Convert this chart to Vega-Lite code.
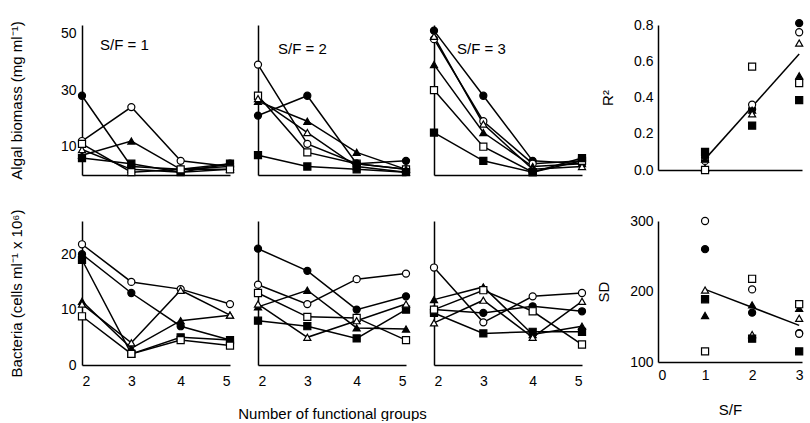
{
"$schema": "https://vega.github.io/schema/vega-lite/v6.json",
"padding": {"left": 9, "top": 17, "right": 0, "bottom": 0},
"config": {
  "view": {"stroke": null},
  "font": "Liberation Sans",
  "axis": {"domainColor": "black", "domainWidth": 1.5, "ticks": false, "tickSize": 0, "grid": false, "labelOverlap": false, "labelFont": "Liberation Sans", "labelFontSize": 14, "labelColor": "black", "titleFont": "Liberation Sans", "titleFontSize": 15, "titleFontWeight": "normal", "titleColor": "black", "labelPadding": 6},
  "axisX": {"labelPadding": 9},
  "title": {"font": "Liberation Sans", "fontSize": 15, "fontWeight": "normal", "color": "black"}
},
"datasets": {
  "d": [
    {"p":"A1","s":"fc","x":2,"y":28},{"p":"A1","s":"fc","x":3,"y":3},{"p":"A1","s":"fc","x":4,"y":2},{"p":"A1","s":"fc","x":5,"y":4},
    {"p":"A1","s":"oc","x":2,"y":12},{"p":"A1","s":"oc","x":3,"y":24},{"p":"A1","s":"oc","x":4,"y":5},{"p":"A1","s":"oc","x":5,"y":3},
    {"p":"A1","s":"ft","x":2,"y":7},{"p":"A1","s":"ft","x":3,"y":12},{"p":"A1","s":"ft","x":4,"y":2},{"p":"A1","s":"ft","x":5,"y":3},
    {"p":"A1","s":"ot","x":2,"y":9},{"p":"A1","s":"ot","x":3,"y":2},{"p":"A1","s":"ot","x":4,"y":1},{"p":"A1","s":"ot","x":5,"y":2},
    {"p":"A1","s":"fs","x":2,"y":6},{"p":"A1","s":"fs","x":3,"y":4},{"p":"A1","s":"fs","x":4,"y":1},{"p":"A1","s":"fs","x":5,"y":4},
    {"p":"A1","s":"os","x":2,"y":11},{"p":"A1","s":"os","x":3,"y":1},{"p":"A1","s":"os","x":4,"y":2},{"p":"A1","s":"os","x":5,"y":2},

    {"p":"A2","s":"oc","x":2,"y":39},{"p":"A2","s":"oc","x":3,"y":11},{"p":"A2","s":"oc","x":4,"y":4},{"p":"A2","s":"oc","x":5,"y":2},
    {"p":"A2","s":"os","x":2,"y":28},{"p":"A2","s":"os","x":3,"y":8},{"p":"A2","s":"os","x":4,"y":4},{"p":"A2","s":"os","x":5,"y":2},
    {"p":"A2","s":"ft","x":2,"y":26},{"p":"A2","s":"ft","x":3,"y":19},{"p":"A2","s":"ft","x":4,"y":8},{"p":"A2","s":"ft","x":5,"y":2},
    {"p":"A2","s":"ot","x":2,"y":27},{"p":"A2","s":"ot","x":3,"y":15},{"p":"A2","s":"ot","x":4,"y":3},{"p":"A2","s":"ot","x":5,"y":1},
    {"p":"A2","s":"fc","x":2,"y":21},{"p":"A2","s":"fc","x":3,"y":28},{"p":"A2","s":"fc","x":4,"y":4},{"p":"A2","s":"fc","x":5,"y":5},
    {"p":"A2","s":"fs","x":2,"y":7},{"p":"A2","s":"fs","x":3,"y":3},{"p":"A2","s":"fs","x":4,"y":2},{"p":"A2","s":"fs","x":5,"y":1},

    {"p":"A3","s":"fc","x":2,"y":51},{"p":"A3","s":"fc","x":3,"y":28},{"p":"A3","s":"fc","x":4,"y":5},{"p":"A3","s":"fc","x":5,"y":4},
    {"p":"A3","s":"oc","x":2,"y":48},{"p":"A3","s":"oc","x":3,"y":19},{"p":"A3","s":"oc","x":4,"y":4},{"p":"A3","s":"oc","x":5,"y":5},
    {"p":"A3","s":"ft","x":2,"y":39},{"p":"A3","s":"ft","x":3,"y":15},{"p":"A3","s":"ft","x":4,"y":3},{"p":"A3","s":"ft","x":5,"y":4},
    {"p":"A3","s":"ot","x":2,"y":49},{"p":"A3","s":"ot","x":3,"y":18},{"p":"A3","s":"ot","x":4,"y":2},{"p":"A3","s":"ot","x":5,"y":3},
    {"p":"A3","s":"os","x":2,"y":30},{"p":"A3","s":"os","x":3,"y":10},{"p":"A3","s":"os","x":4,"y":1},{"p":"A3","s":"os","x":5,"y":5},
    {"p":"A3","s":"fs","x":2,"y":15},{"p":"A3","s":"fs","x":3,"y":5},{"p":"A3","s":"fs","x":4,"y":1},{"p":"A3","s":"fs","x":5,"y":6},

    {"p":"B1","s":"oc","x":2,"y":21.8},{"p":"B1","s":"oc","x":3,"y":15},{"p":"B1","s":"oc","x":4,"y":13.7},{"p":"B1","s":"oc","x":5,"y":11},
    {"p":"B1","s":"fc","x":2,"y":20},{"p":"B1","s":"fc","x":3,"y":13},{"p":"B1","s":"fc","x":4,"y":7},{"p":"B1","s":"fc","x":5,"y":4.5},
    {"p":"B1","s":"fs","x":2,"y":19},{"p":"B1","s":"fs","x":3,"y":2},{"p":"B1","s":"fs","x":4,"y":5},{"p":"B1","s":"fs","x":5,"y":4.5},
    {"p":"B1","s":"ft","x":2,"y":11.5},{"p":"B1","s":"ft","x":3,"y":3},{"p":"B1","s":"ft","x":4,"y":8},{"p":"B1","s":"ft","x":5,"y":9},
    {"p":"B1","s":"ot","x":2,"y":11},{"p":"B1","s":"ot","x":3,"y":4},{"p":"B1","s":"ot","x":4,"y":13.5},{"p":"B1","s":"ot","x":5,"y":9},
    {"p":"B1","s":"os","x":2,"y":8.8},{"p":"B1","s":"os","x":3,"y":2},{"p":"B1","s":"os","x":4,"y":4.5},{"p":"B1","s":"os","x":5,"y":3.5},

    {"p":"B2","s":"fc","x":2,"y":21},{"p":"B2","s":"fc","x":3,"y":17},{"p":"B2","s":"fc","x":4,"y":10},{"p":"B2","s":"fc","x":5,"y":12.4},
    {"p":"B2","s":"oc","x":2,"y":14.5},{"p":"B2","s":"oc","x":3,"y":11},{"p":"B2","s":"oc","x":4,"y":15.5},{"p":"B2","s":"oc","x":5,"y":16.5},
    {"p":"B2","s":"os","x":2,"y":13},{"p":"B2","s":"os","x":3,"y":8.7},{"p":"B2","s":"os","x":4,"y":8.5},{"p":"B2","s":"os","x":5,"y":4.5},
    {"p":"B2","s":"ft","x":2,"y":10.5},{"p":"B2","s":"ft","x":3,"y":13.5},{"p":"B2","s":"ft","x":4,"y":6.7},{"p":"B2","s":"ft","x":5,"y":6.5},
    {"p":"B2","s":"fs","x":2,"y":8},{"p":"B2","s":"fs","x":3,"y":7},{"p":"B2","s":"fs","x":4,"y":4.8},{"p":"B2","s":"fs","x":5,"y":10},
    {"p":"B2","s":"ot","x":2,"y":11},{"p":"B2","s":"ot","x":3,"y":5},{"p":"B2","s":"ot","x":4,"y":8},{"p":"B2","s":"ot","x":5,"y":11},

    {"p":"B3","s":"oc","x":2,"y":17.6},{"p":"B3","s":"oc","x":3,"y":7.7},{"p":"B3","s":"oc","x":4,"y":12.4},{"p":"B3","s":"oc","x":5,"y":13},
    {"p":"B3","s":"ft","x":2,"y":11.8},{"p":"B3","s":"ft","x":3,"y":14.1},{"p":"B3","s":"ft","x":4,"y":5.5},{"p":"B3","s":"ft","x":5,"y":7},
    {"p":"B3","s":"fc","x":2,"y":10},{"p":"B3","s":"fc","x":3,"y":9.4},{"p":"B3","s":"fc","x":4,"y":10.6},{"p":"B3","s":"fc","x":5,"y":9.7},
    {"p":"B3","s":"fs","x":2,"y":9.4},{"p":"B3","s":"fs","x":3,"y":5.7},{"p":"B3","s":"fs","x":4,"y":6},{"p":"B3","s":"fs","x":5,"y":6},
    {"p":"B3","s":"ot","x":2,"y":7.6},{"p":"B3","s":"ot","x":3,"y":11.7},{"p":"B3","s":"ot","x":4,"y":5},{"p":"B3","s":"ot","x":5,"y":11.5},
    {"p":"B3","s":"os","x":2,"y":10},{"p":"B3","s":"os","x":3,"y":13.5},{"p":"B3","s":"os","x":4,"y":9.7},{"p":"B3","s":"os","x":5,"y":3.7},

    {"p":"R","s":"fc","x":1,"y":0.07},{"p":"R","s":"oc","x":1,"y":0.05},{"p":"R","s":"ft","x":1,"y":0.06},{"p":"R","s":"ot","x":1,"y":0.01},{"p":"R","s":"fs","x":1,"y":0.10},{"p":"R","s":"os","x":1,"y":0.0},
    {"p":"R","s":"fc","x":2,"y":0.335},{"p":"R","s":"oc","x":2,"y":0.36},{"p":"R","s":"ft","x":2,"y":0.33},{"p":"R","s":"ot","x":2,"y":0.31},{"p":"R","s":"fs","x":2,"y":0.245},{"p":"R","s":"os","x":2,"y":0.57},
    {"p":"R","s":"fc","x":3,"y":0.81},{"p":"R","s":"oc","x":3,"y":0.76},{"p":"R","s":"ft","x":3,"y":0.52},{"p":"R","s":"ot","x":3,"y":0.70},{"p":"R","s":"fs","x":3,"y":0.386},{"p":"R","s":"os","x":3,"y":0.48},

    {"p":"S","s":"fc","x":1,"y":260},{"p":"S","s":"oc","x":1,"y":300},{"p":"S","s":"ft","x":1,"y":166},{"p":"S","s":"ot","x":1,"y":202},{"p":"S","s":"fs","x":1,"y":189},{"p":"S","s":"os","x":1,"y":115},
    {"p":"S","s":"fc","x":2,"y":170},{"p":"S","s":"oc","x":2,"y":203},{"p":"S","s":"ft","x":2,"y":181},{"p":"S","s":"ot","x":2,"y":139},{"p":"S","s":"fs","x":2,"y":133},{"p":"S","s":"os","x":2,"y":218},
    {"p":"S","s":"fc","x":3,"y":141},{"p":"S","s":"oc","x":3,"y":140},{"p":"S","s":"ft","x":3,"y":176},{"p":"S","s":"ot","x":3,"y":162},{"p":"S","s":"fs","x":3,"y":115},{"p":"S","s":"os","x":3,"y":182}
  ],
  "fit": [
    {"p":"R","x":1,"y":0.06},{"p":"R","x":3,"y":0.64},
    {"p":"S","x":1,"y":203},{"p":"S","x":3,"y":152}
  ]
},
"columns": 5,
"spacing": {"row": 29, "column": 1},
"align": "each",
"bounds": "full",
"resolve": {"scale": {"x": "independent", "y": "independent"}},
"concat": [
  {
    "width": 148, "height": 150,
    "title": {"text": "S/F = 1", "anchor": "start", "frame": "group", "offset": -11, "dx": 18, "dy": 21, "baseline": "top"},
    "data": {"name": "d"},
    "transform": [{"filter": "datum.p === 'A1'"}],
    "encoding": {
      "x": {"field": "x", "type": "quantitative", "scale": {"domain": [2, 5], "nice": false}, "axis": {"labels": false, "title": null}},
      "y": {"field": "y", "type": "quantitative", "scale": {"domain": [0, 53], "nice": false}, "axis": {"values": [10, 30, 50], "title": "Algal biomass (mg ml⁻¹)", "titlePadding": 36}}
    },
    "layer": [
      {"mark": {"type": "line", "color": "black", "strokeWidth": 1.5}, "encoding": {"detail": {"field": "s"}}},
      {"mark": {"type": "point", "filled": true, "stroke": "black", "strokeWidth": 1.2, "size": 50, "opacity": 1},
       "encoding": {
         "shape": {"field": "s", "type": "nominal", "scale": {"domain": ["fc","oc","ft","ot","fs","os"], "range": ["circle","circle","triangle-up","triangle-up","square","square"]}, "legend": null},
         "fill": {"field": "s", "type": "nominal", "scale": {"domain": ["fc","oc","ft","ot","fs","os"], "range": ["black","white","black","white","black","white"]}, "legend": null}
       }}
    ]
  },
  {
    "width": 148, "height": 150,
    "title": {"text": "S/F = 2", "anchor": "start", "frame": "group", "offset": -11, "dx": 20, "dy": 21, "baseline": "top"},
    "data": {"name": "d"},
    "transform": [{"filter": "datum.p === 'A2'"}],
    "encoding": {
      "x": {"field": "x", "type": "quantitative", "scale": {"domain": [2, 5], "nice": false}, "axis": {"labels": false, "title": null}},
      "y": {"field": "y", "type": "quantitative", "scale": {"domain": [0, 53], "nice": false}, "axis": {"labels": false, "title": null}}
    },
    "layer": [
      {"mark": {"type": "line", "color": "black", "strokeWidth": 1.5}, "encoding": {"detail": {"field": "s"}}},
      {"mark": {"type": "point", "filled": true, "stroke": "black", "strokeWidth": 1.2, "size": 50, "opacity": 1},
       "encoding": {
         "shape": {"field": "s", "type": "nominal", "scale": {"domain": ["fc","oc","ft","ot","fs","os"], "range": ["circle","circle","triangle-up","triangle-up","square","square"]}, "legend": null},
         "fill": {"field": "s", "type": "nominal", "scale": {"domain": ["fc","oc","ft","ot","fs","os"], "range": ["black","white","black","white","black","white"]}, "legend": null}
       }}
    ]
  },
  {
    "width": 148, "height": 150,
    "title": {"text": "S/F = 3", "anchor": "start", "frame": "group", "offset": -11, "dx": 23, "dy": 21, "baseline": "top"},
    "data": {"name": "d"},
    "transform": [{"filter": "datum.p === 'A3'"}],
    "encoding": {
      "x": {"field": "x", "type": "quantitative", "scale": {"domain": [2, 5], "nice": false}, "axis": {"labels": false, "title": null}},
      "y": {"field": "y", "type": "quantitative", "scale": {"domain": [0, 53], "nice": false}, "axis": {"labels": false, "title": null}}
    },
    "layer": [
      {"mark": {"type": "line", "color": "black", "strokeWidth": 1.5}, "encoding": {"detail": {"field": "s"}}},
      {"mark": {"type": "point", "filled": true, "stroke": "black", "strokeWidth": 1.2, "size": 50, "opacity": 1},
       "encoding": {
         "shape": {"field": "s", "type": "nominal", "scale": {"domain": ["fc","oc","ft","ot","fs","os"], "range": ["circle","circle","triangle-up","triangle-up","square","square"]}, "legend": null},
         "fill": {"field": "s", "type": "nominal", "scale": {"domain": ["fc","oc","ft","ot","fs","os"], "range": ["black","white","black","white","black","white"]}, "legend": null}
       }}
    ]
  },
  {"width": 6, "height": 10, "data": {"values": [{}]}, "mark": {"type": "point", "opacity": 0}, "encoding": {}},
  {
    "width": 144, "height": 145,
    "encoding": {
      "x": {"field": "x", "type": "quantitative", "scale": {"domain": [0, 3.06], "nice": false}, "axis": {"labels": false, "title": null}},
      "y": {"field": "y", "type": "quantitative", "scale": {"domain": [0, 0.8], "nice": false}, "axis": {"values": [0, 0.2, 0.4, 0.6, 0.8], "format": ".1f", "labelOverlap": false, "title": "R²", "titlePadding": 18, "labelPadding": 5}}
    },
    "layer": [
      {"data": {"name": "fit"}, "transform": [{"filter": "datum.p === 'R'"}],
       "mark": {"type": "line", "color": "black", "strokeWidth": 1.5}},
      {"data": {"name": "d"}, "transform": [{"filter": "datum.p === 'R'"}],
       "mark": {"type": "point", "filled": true, "stroke": "black", "strokeWidth": 1.2, "size": 50, "opacity": 1},
       "encoding": {
         "shape": {"field": "s", "type": "nominal", "scale": {"domain": ["fc","oc","ft","ot","fs","os"], "range": ["circle","circle","triangle-up","triangle-up","square","square"]}, "legend": null},
         "fill": {"field": "s", "type": "nominal", "scale": {"domain": ["fc","oc","ft","ot","fs","os"], "range": ["black","white","black","white","black","white"]}, "legend": null}
       }}
    ]
  },
  {
    "width": 148, "height": 144,
    "data": {"name": "d"},
    "transform": [{"filter": "datum.p === 'B1'"}],
    "encoding": {
      "x": {"field": "x", "type": "quantitative", "scale": {"domain": [2, 5], "nice": false}, "axis": {"values": [2, 3, 4, 5], "format": "d", "title": null}},
      "y": {"field": "y", "type": "quantitative", "scale": {"domain": [0, 26], "nice": false}, "axis": {"values": [0, 10, 20], "title": "Bacteria (cells ml⁻¹ x 10⁶)", "titlePadding": 36}}
    },
    "layer": [
      {"mark": {"type": "line", "color": "black", "strokeWidth": 1.5}, "encoding": {"detail": {"field": "s"}}},
      {"mark": {"type": "point", "filled": true, "stroke": "black", "strokeWidth": 1.2, "size": 50, "opacity": 1},
       "encoding": {
         "shape": {"field": "s", "type": "nominal", "scale": {"domain": ["fc","oc","ft","ot","fs","os"], "range": ["circle","circle","triangle-up","triangle-up","square","square"]}, "legend": null},
         "fill": {"field": "s", "type": "nominal", "scale": {"domain": ["fc","oc","ft","ot","fs","os"], "range": ["black","white","black","white","black","white"]}, "legend": null}
       }}
    ]
  },
  {
    "width": 148, "height": 144,
    "data": {"name": "d"},
    "transform": [{"filter": "datum.p === 'B2'"}],
    "encoding": {
      "x": {"field": "x", "type": "quantitative", "scale": {"domain": [2, 5], "nice": false}, "axis": {"values": [2, 3, 4, 5], "format": "d", "title": "Number of functional groups", "titlePadding": 18}},
      "y": {"field": "y", "type": "quantitative", "scale": {"domain": [0, 26], "nice": false}, "axis": {"labels": false, "title": null}}
    },
    "layer": [
      {"mark": {"type": "line", "color": "black", "strokeWidth": 1.5}, "encoding": {"detail": {"field": "s"}}},
      {"mark": {"type": "point", "filled": true, "stroke": "black", "strokeWidth": 1.2, "size": 50, "opacity": 1},
       "encoding": {
         "shape": {"field": "s", "type": "nominal", "scale": {"domain": ["fc","oc","ft","ot","fs","os"], "range": ["circle","circle","triangle-up","triangle-up","square","square"]}, "legend": null},
         "fill": {"field": "s", "type": "nominal", "scale": {"domain": ["fc","oc","ft","ot","fs","os"], "range": ["black","white","black","white","black","white"]}, "legend": null}
       }}
    ]
  },
  {
    "width": 148, "height": 144,
    "data": {"name": "d"},
    "transform": [{"filter": "datum.p === 'B3'"}],
    "encoding": {
      "x": {"field": "x", "type": "quantitative", "scale": {"domain": [2, 5], "nice": false}, "axis": {"values": [2, 3, 4, 5], "format": "d", "title": null}},
      "y": {"field": "y", "type": "quantitative", "scale": {"domain": [0, 26], "nice": false}, "axis": {"labels": false, "title": null}}
    },
    "layer": [
      {"mark": {"type": "line", "color": "black", "strokeWidth": 1.5}, "encoding": {"detail": {"field": "s"}}},
      {"mark": {"type": "point", "filled": true, "stroke": "black", "strokeWidth": 1.2, "size": 50, "opacity": 1},
       "encoding": {
         "shape": {"field": "s", "type": "nominal", "scale": {"domain": ["fc","oc","ft","ot","fs","os"], "range": ["circle","circle","triangle-up","triangle-up","square","square"]}, "legend": null},
         "fill": {"field": "s", "type": "nominal", "scale": {"domain": ["fc","oc","ft","ot","fs","os"], "range": ["black","white","black","white","black","white"]}, "legend": null}
       }}
    ]
  },
  {"width": 6, "height": 10, "data": {"values": [{}]}, "mark": {"type": "point", "opacity": 0}, "encoding": {}},
  {
    "width": 144, "height": 141,
    "encoding": {
      "x": {"field": "x", "type": "quantitative", "scale": {"domain": [0, 3.06], "nice": false}, "axis": {"values": [0, 1, 2, 3], "format": "d", "title": "S/F", "titlePadding": 20, "labelPadding": 6}},
      "y": {"field": "y", "type": "quantitative", "scale": {"domain": [100, 300], "nice": false}, "axis": {"values": [100, 200, 300], "title": "SD", "titlePadding": 18, "labelPadding": 5}}
    },
    "layer": [
      {"data": {"name": "fit"}, "transform": [{"filter": "datum.p === 'S'"}],
       "mark": {"type": "line", "color": "black", "strokeWidth": 1.5}},
      {"data": {"name": "d"}, "transform": [{"filter": "datum.p === 'S'"}],
       "mark": {"type": "point", "filled": true, "stroke": "black", "strokeWidth": 1.2, "size": 50, "opacity": 1},
       "encoding": {
         "shape": {"field": "s", "type": "nominal", "scale": {"domain": ["fc","oc","ft","ot","fs","os"], "range": ["circle","circle","triangle-up","triangle-up","square","square"]}, "legend": null},
         "fill": {"field": "s", "type": "nominal", "scale": {"domain": ["fc","oc","ft","ot","fs","os"], "range": ["black","white","black","white","black","white"]}, "legend": null}
       }}
    ]
  }
]
}
